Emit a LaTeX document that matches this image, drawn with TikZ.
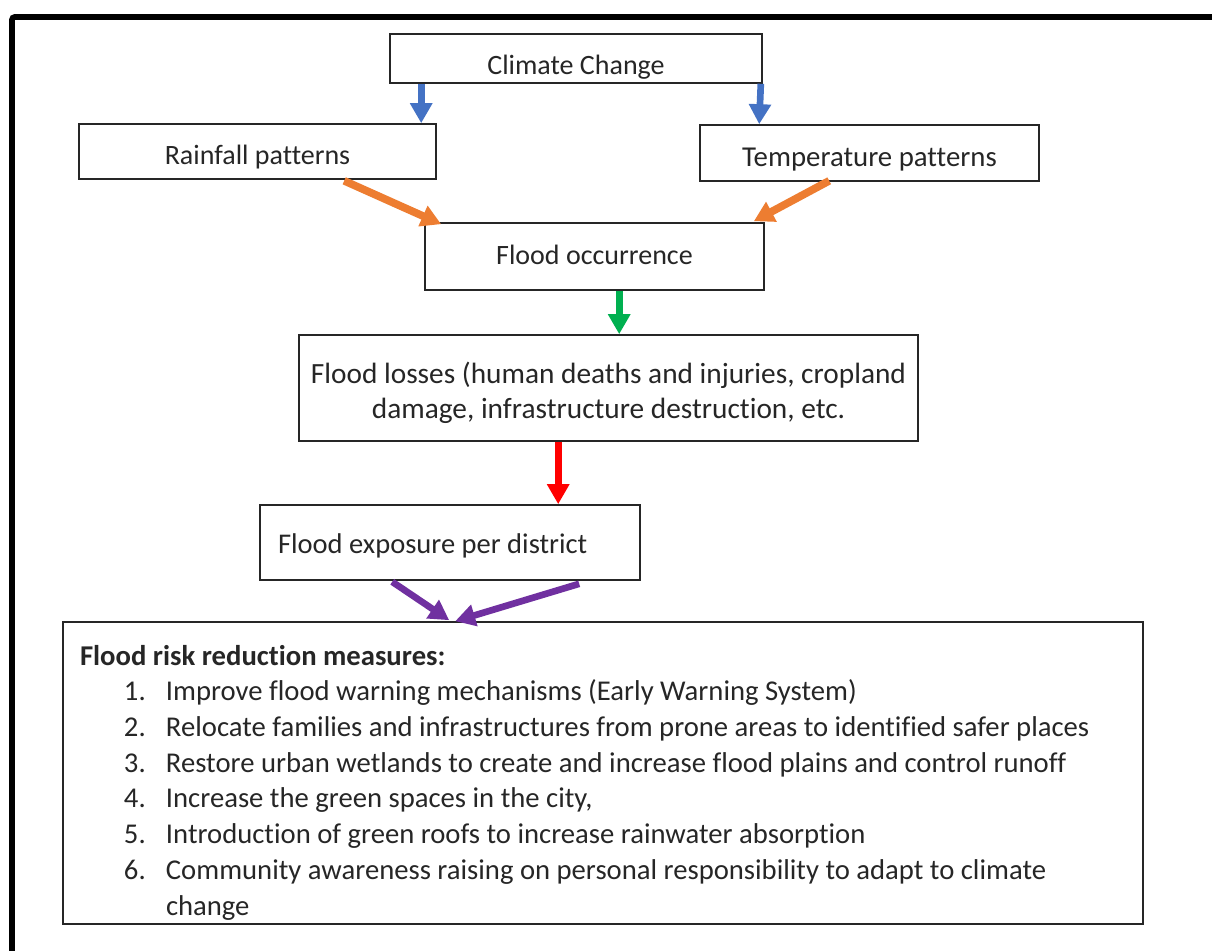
\documentclass[tikz,border=0pt]{standalone}
\usepackage{fontspec}
\setmainfont{Carlito}[Ligatures=NoCommon]
\usetikzlibrary{arrows.meta,calc}

\definecolor{wordblue}{HTML}{4472C4}
\definecolor{wordorange}{HTML}{ED7D31}
\definecolor{wordgreen}{HTML}{00B050}
\definecolor{wordpurple}{HTML}{7030A0}

\newcommand{\measure}[2]{\hspace*{16.5pt}\makebox[15.75pt][l]{#1.}#2}

\begin{document}
\begin{tikzpicture}[x=0.375pt,y=-0.375pt,
  font=\fontsize{10.5}{13.4}\selectfont,
  box/.style={draw=black!85,line width=0.6pt,inner sep=0pt,text=black!85},
  textdrop/.style={text height=#1,text depth=0pt},
  link/.style={line width=2.5pt,-{Triangle[length=7.5pt,width=8pt]}}]
  \useasboundingbox (0,0) rectangle (1212,951);
  % outer frame
  \draw[line width=2.1pt,rounded corners=1pt] (12,970) -- (12,17) -- (1230,17);

  % boxes
  \node[box,textdrop=12.2pt,minimum width=139.5pt,minimum height=18.375pt] (climate) at (576,58.5) {Climate Change};
  \node[box,textdrop=9.4pt,minimum width=133.875pt,minimum height=20.625pt] (rain) at (257.5,151.5) {Rainfall patterns};
  \node[box,textdrop=9.8pt,minimum width=127.125pt,minimum height=21pt,font=\fontsize{10.8}{13.4}\selectfont] (temp) at (869.5,153) {Temperature patterns};
  \node[box,textdrop=6.2pt,minimum width=127.125pt,minimum height=25.125pt] (flood) at (594.5,256.5) {Flood occurrence};
  \node[box,textdrop=22.6pt,minimum width=232.125pt,minimum height=39.75pt,align=flush center,
        font=\fontsize{11}{13.1}\selectfont] (losses) at (608.5,388)
    {Flood losses (human deaths and injuries, cropland\\damage, infrastructure destruction, etc.};
  \node[box,textdrop=8.5pt,minimum width=142.5pt,minimum height=28.125pt,text width=129pt,align=flush left,
        font=\fontsize{10.7}{13.4}\selectfont] (exposure) at (450,542.5)
    {Flood exposure per district};
  \node[box,text height=10pt,text depth=91pt,minimum width=405pt,minimum height=113.25pt,text width=392.25pt,
        align=flush left,font=\fontsize{10.75}{13.4}\selectfont] (measures) at (603,773)
    {\textbf{Flood risk reduction measures:}\\
     \measure{1}{Improve flood warning mechanisms (Early Warning System)}\\
     \measure{2}{Relocate families and infrastructures from prone areas to identified safer places}\\
     \measure{3}{Restore urban wetlands to create and increase flood plains and control runoff}\\
     \measure{4}{Increase the green spaces in the city,}\\
     \measure{5}{Introduction of green roofs to increase rainwater absorption}\\
     \measure{6}{Community awareness raising on personal responsibility to adapt to climate}\\
     \hspace*{32.25pt}change};

  % arrows
  \draw[link,wordblue] ($(climate.south west)+(32,0)$) -- ($(rain.north west)+(343,0)$);
  \draw[link,wordblue] ($(climate.south east)+(-2,0)$) -- ($(temp.north west)+(60,0)$);
  \draw[link,wordorange,line width=2.9pt] ($(rain.south west)+(266,1)$) -- ($(flood.north west)+(17,2)$);
  \draw[link,wordorange,line width=2.9pt] ($(temp.south west)+(130,-1)$) -- ($(flood.north east)+(-11,-1)$);
  \draw[link,wordgreen] ($(flood.south west)+(195,0)$) -- ($(losses.north west)+(321,0)$);
  \draw[link,red] ($(losses.south west)+(260,0)$) -- ($(exposure.north west)+(299,0)$);
  \draw[link,wordpurple] ($(exposure.south west)+(133,1)$) -- ($(measures.north west)+(387,-1)$);
  \draw[link,wordpurple] ($(exposure.south west)+(320,3)$) -- ($(measures.north west)+(393,0)$);
\end{tikzpicture}
\end{document}
